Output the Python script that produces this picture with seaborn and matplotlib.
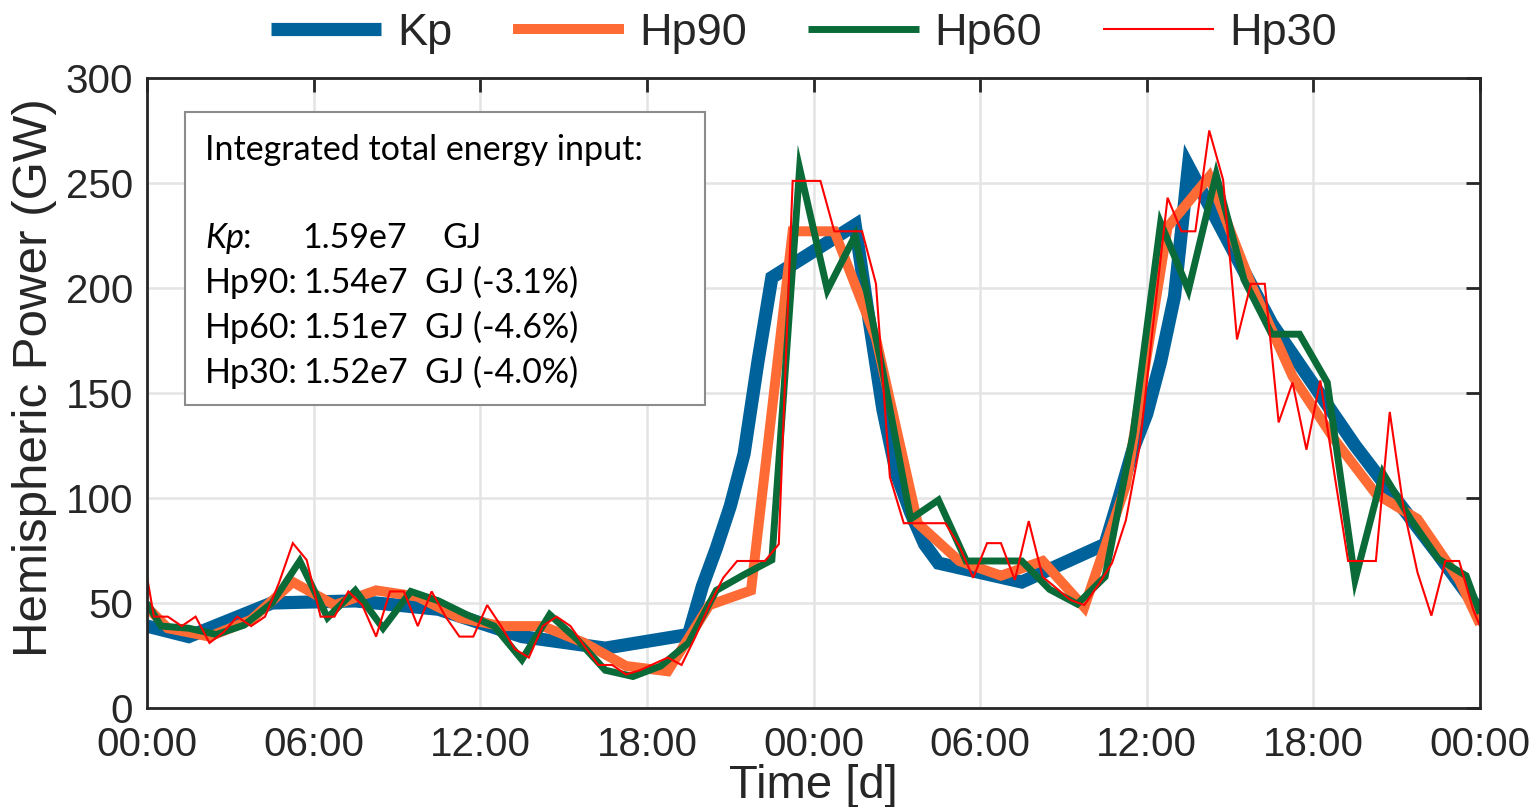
import numpy as np
import matplotlib
matplotlib.use("Agg")
import matplotlib.pyplot as plt
import seaborn as sns
from matplotlib.patches import Rectangle

# ---- hemispheric power (GW) over two days, hours from start ----
kp_hours = [0, 1.5, 4.5, 7.5, 10.5, 13.5, 16.5, 19.5, 20, 20.5, 21, 21.5, 22, 22.5,
            25.5, 26, 26.5, 27, 27.5, 28, 28.5, 31.5, 34.5, 35, 35.5, 36, 36.5, 37,
            37.5, 40.5, 43.5, 46.5, 48]
kp_gw = [39, 34, 50, 51, 47, 34, 28.5, 35, 58, 76, 96, 121, 165, 205,
         230, 185, 142, 111, 93, 78, 69, 60, 78, 100, 123, 140, 165, 196,
         258, 183, 125, 73, 46]

hp90_hours = [0] + list(np.arange(0.75, 48, 1.5)) + [48]
hp90_gw = [48, 38, 34, 42, 60, 49, 56, 53, 43, 39, 39, 31, 20, 17.5, 49, 56,
           227, 227, 176, 88, 70, 63, 70, 48, 106, 229, 253, 202, 158, 128,
           102, 90, 61, 40]

hp60_hours = [0] + list(np.arange(0.5, 48, 1.0)) + [48]
hp60_gw = [50, 39, 38, 35, 39.5, 50, 70, 43, 56, 38, 55.5, 51, 44.5, 39, 23,
           44.5, 32.5, 18, 15, 20, 31, 56, 63.5, 70.5, 257, 199, 225, 160, 90,
           99, 70, 70, 70, 56.5, 49.5, 62.5, 130, 231, 199, 254, 204, 178, 178,
           155, 61, 112, 90, 71, 63, 45]

hp30_hours = [0] + list(np.arange(0.25, 48, 0.5)) + [48]
hp30_gw = [62.5,
           43.5, 43.5, 39, 43.5, 31, 36, 43.5, 39, 43.5, 59.5, 78.5, 70.5,
           43.5, 43.5, 55.5, 49, 34, 55.5, 55.5, 39, 55.5, 43.5, 34, 34,
           49, 39, 28, 24, 39, 43.5, 39, 29.5, 20.5, 20.5, 16, 18,
           21, 24, 20.5, 34, 49, 62, 70, 70, 70, 78, 251, 251,
           251, 227, 227, 227, 202, 110, 88, 88, 88, 88, 77, 62,
           78.5, 78.5, 61, 89, 62.5, 57, 51.5, 49, 58.5, 69, 89.5, 125,
           185, 243, 227, 227, 275, 251.5, 175.5, 202, 202, 136, 155, 123,
           156, 112, 70, 70, 70, 141, 95, 64.5, 44, 70, 70, 47,
           39]

tick_hours = [0, 6, 12, 18, 24, 30, 36, 42, 48]
tick_labels = ["00:00", "06:00", "12:00", "18:00", "00:00",
               "06:00", "12:00", "18:00", "00:00"]

box_title = "Integrated total energy input:"
box_names = ["Hp90:", "Hp60:", "Hp30:"]
box_values = ["1.54e7", "1.51e7", "1.52e7"]
box_changes = ["GJ (-3.1%)", "GJ (-4.6%)", "GJ (-4.0%)"]

# ---- style ----
sns.set_theme(style="whitegrid")
plt.rcParams["font.family"] = ["Liberation Sans", "DejaVu Sans"]
dark = "#262626"

W, H = 1535, 807
fig = plt.figure(figsize=(W / 100, H / 100), dpi=100)
x0, x1, y0, y1 = 147, 1480, 78, 708
ax = fig.add_axes([x0 / W, 1 - y1 / H, (x1 - x0) / W, (y1 - y0) / H])

series = [
    (kp_hours, kp_gw, "Kp", "#00629a", 9.5),
    (hp90_hours, hp90_gw, "Hp90", "#ff6b35", 7.2),
    (hp60_hours, hp60_gw, "Hp60", "#0a6b38", 5.0),
    (hp30_hours, hp30_gw, "Hp30", "#ff0000", 1.5),
]
for hrs, vals, name, col, lw in series:
    sns.lineplot(x=hrs, y=vals, ax=ax, color=col, linewidth=lw, label=name,
                 sort=False, estimator=None, solid_joinstyle="miter",
                 solid_capstyle="butt", zorder=2)

ax.set_xlim(0, 48)
ax.set_ylim(0, 300)
ax.set_xticks(tick_hours)
ax.set_xticklabels(tick_labels)
ax.set_yticks(range(0, 301, 50))
ax.grid(True, color="#e4e4e4", linewidth=1.8)
ax.set_axisbelow(True)
for s in ax.spines.values():
    s.set_visible(True)
    s.set_color(dark)
    s.set_linewidth(2)
ax.tick_params(axis="both", direction="in", length=10, width=2, color=dark,
               labelcolor=dark, labelsize=29, top=True, right=True)
ax.tick_params(axis="y", pad=10)
ax.tick_params(axis="x", pad=13)
ax.set_xlabel("Time [d]", fontsize=34, color=dark, labelpad=0)
ax.set_ylabel("Hemispheric Power (GW)", fontsize=35.5, color=dark)
ax.yaxis.set_label_coords((57 - x0) / (x1 - x0), (y1 - 378) / (y1 - y0))

leg = ax.legend(loc="center", bbox_to_anchor=((804 - x0) / (x1 - x0), (y1 - 33) / (y1 - y0)),
                ncol=4, frameon=False, fontsize=32.5, handlelength=2.45,
                handletextpad=0.35, columnspacing=1.35)
for t in leg.get_texts():
    t.set_color(dark)


def ax_pt(px, py):
    return ((px - x0) / (x1 - x0), (y1 - py) / (y1 - y0))


# annotation box
bx, by = ax_pt(185, 405)
bx2, by2 = ax_pt(705, 112)
ax.add_patch(Rectangle((bx, by), bx2 - bx, by2 - by, transform=ax.transAxes,
                       facecolor="white", edgecolor="#8c8c8c", linewidth=1.5,
                       zorder=5))
box_font = dict(family=["Lato", "DejaVu Sans"], fontsize=24.5, color="black",
                va="center", ha="left", transform=ax.transAxes, zorder=6)
ax.text(*ax_pt(205, 150), box_title, **box_font)
ax.text(*ax_pt(205, 238), "Kp", style="italic", **box_font)
ax.text(*ax_pt(243, 238), ":", **box_font)
ax.text(*ax_pt(302, 238), "1.59e7", **box_font)
ax.text(*ax_pt(442, 238), "GJ", **box_font)
for i, (nm, v, c) in enumerate(zip(box_names, box_values, box_changes)):
    yy = 283 + 45 * i
    ax.text(*ax_pt(205, yy), nm, **box_font)
    ax.text(*ax_pt(303, yy), v, **box_font)
    ax.text(*ax_pt(425, yy), c, **box_font)

fig.savefig("out.png", dpi=100)
